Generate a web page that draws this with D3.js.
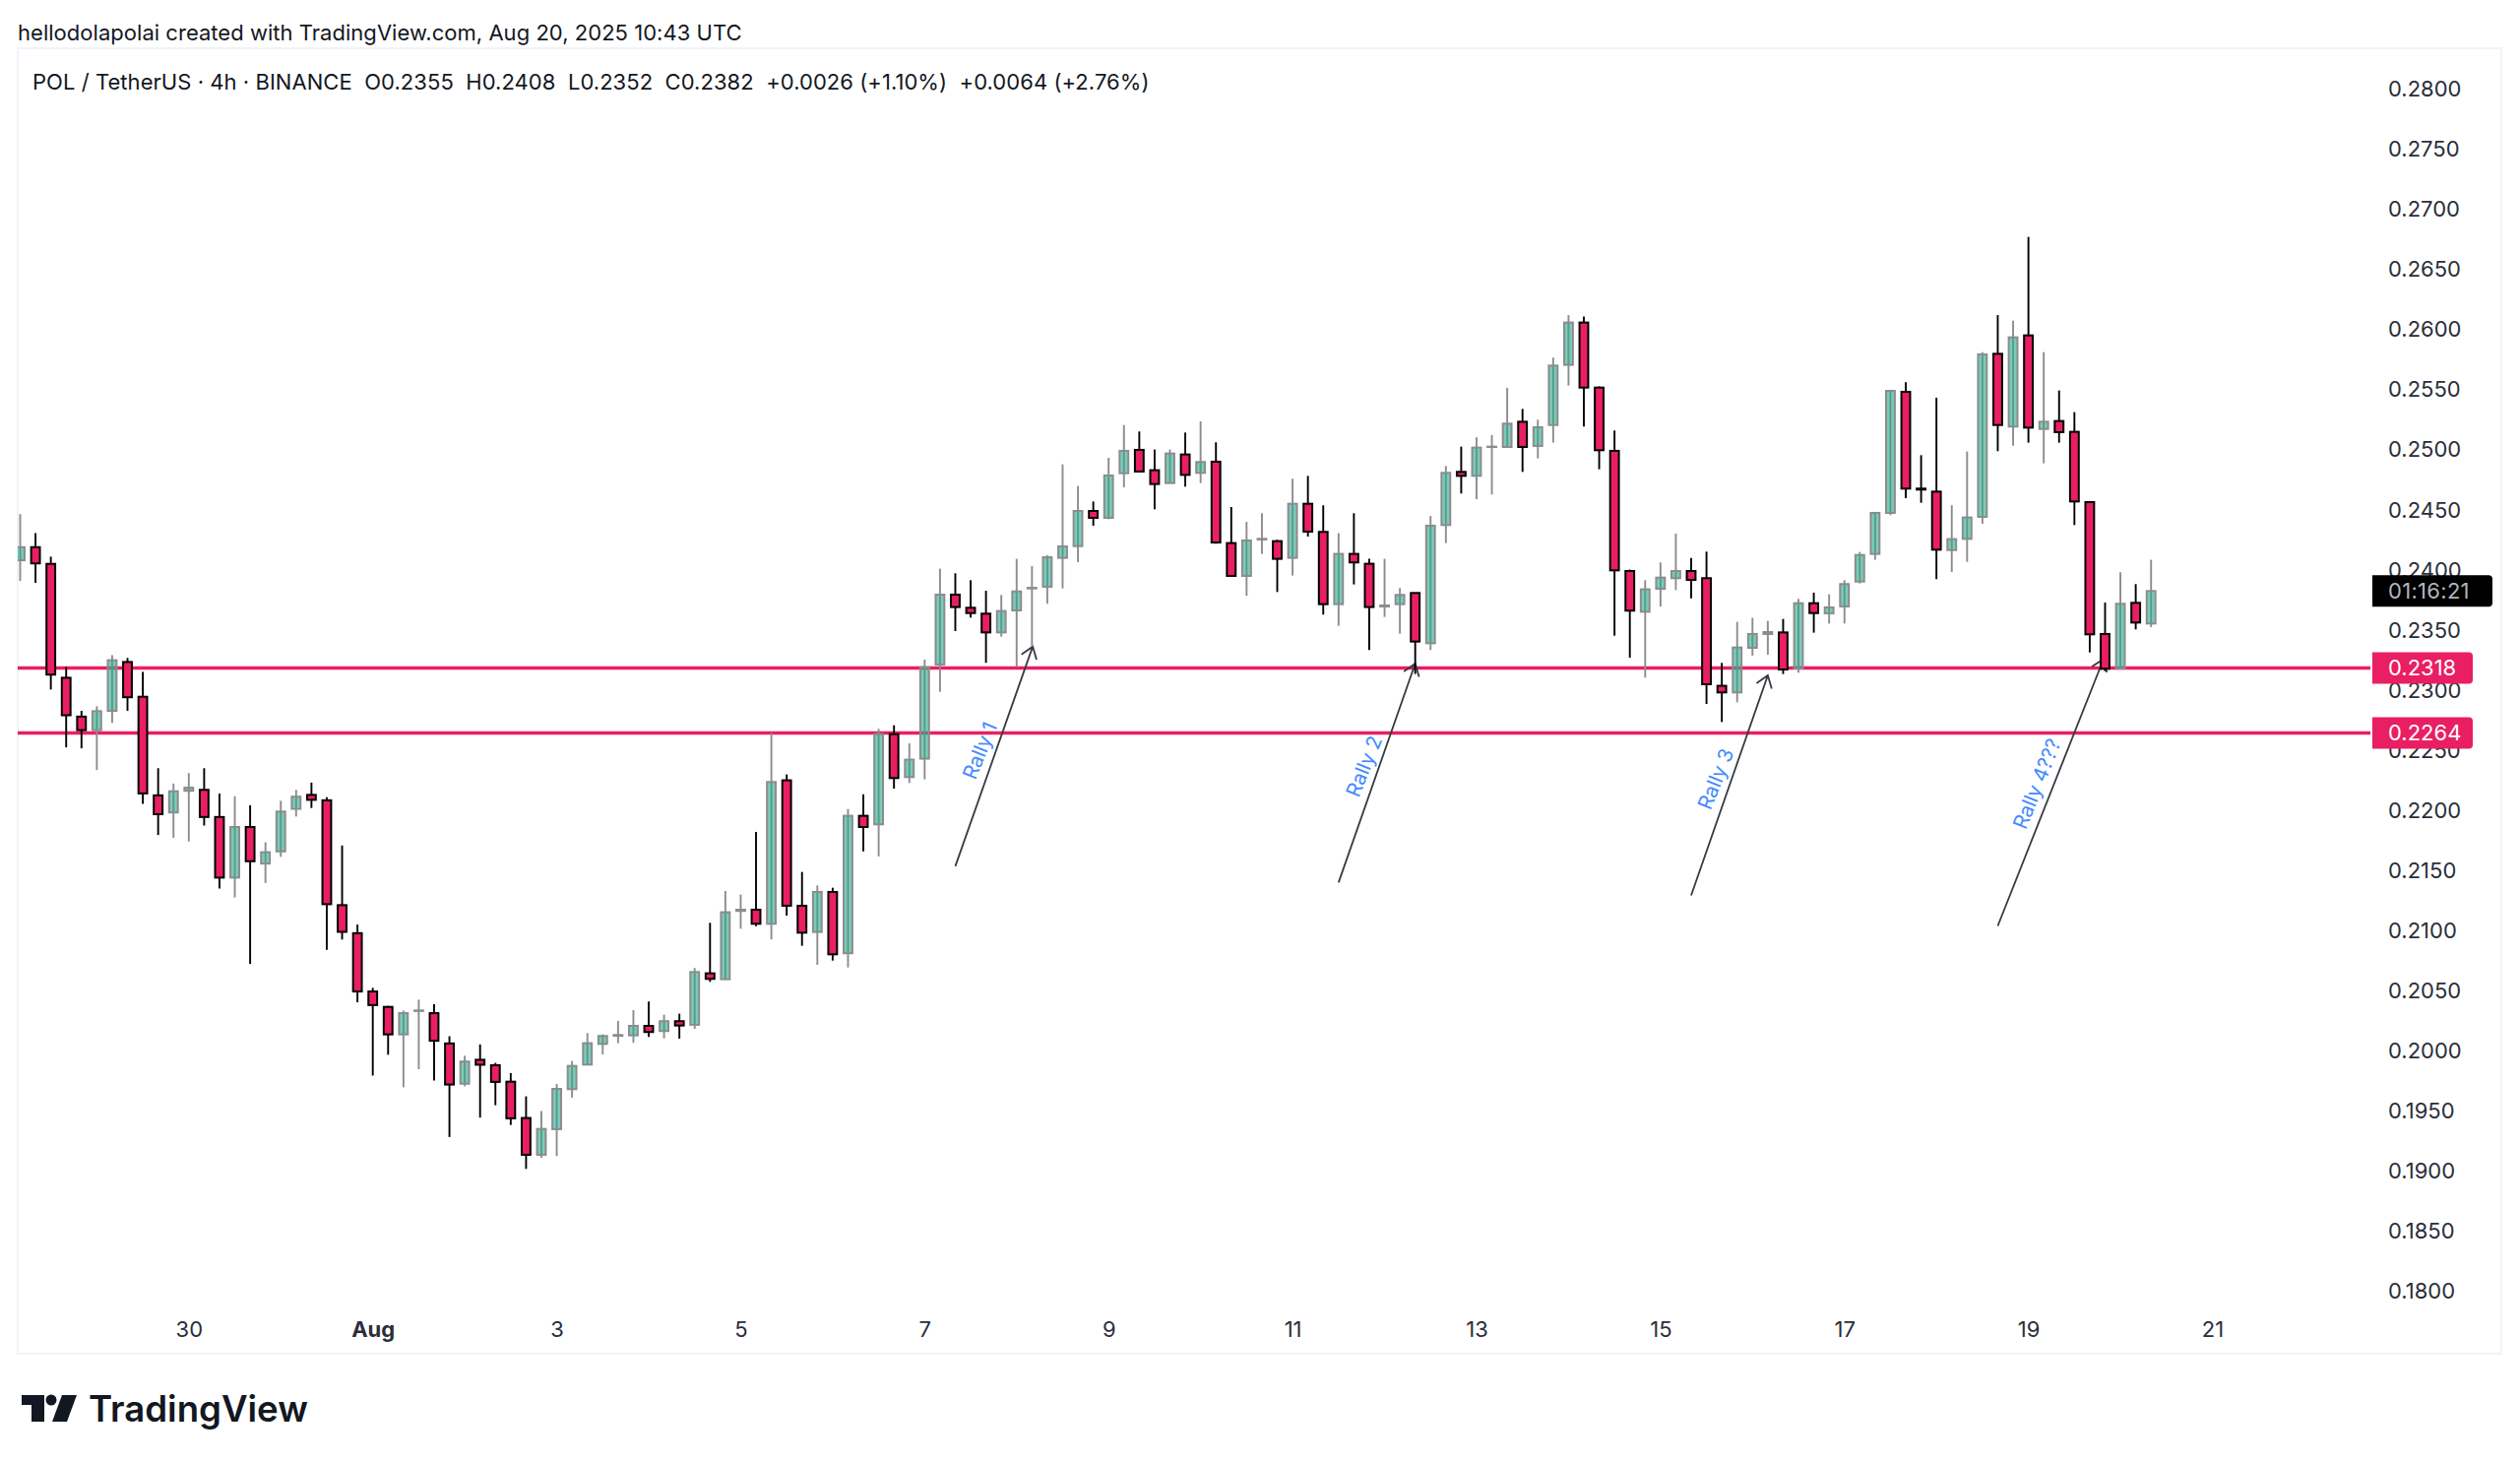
<!DOCTYPE html>
<html>
<head>
<meta charset="utf-8">
<title>POL / TetherUS</title>
<script src="https://cdn.jsdelivr.net/npm/d3@7"></script>
<style>
    html, body { margin: 0; padding: 0; background: #ffffff; }
    svg { display: block; }
    text { font-family: Inter, "Noto Sans", sans-serif; white-space: pre; }
</style>
</head>
<body>
<div id="chart"></div>
<script>

//4h candles, oldest first
var opens = [
    .24076,.24185,.24046,.23099,.22776,.22663,.22824,.23230,.22941,.22121,
    .21979,.22159,.22167,.21941,.21437,.21858,.21554,.21655,.22009,.22125,
    .22080,.21208,.20975,.20490,.20362,.20133,.20328,.20310,.20058,.19723,
    .19922,.19877,.19740,.19438,.19132,.19345,.19678,.19882,.20054,.20122,
    .20125,.20204,.20161,.20243,.20213,.20641,.20592,.21160,.21170,.21053,
    .22246,.21203,.20985,.21318,.20808,.21951,.21880,.22630,.22273,.22426,
    .23209,.23790,.23681,.23632,.23476,.23659,.23842,.23856,.24096,.24194,
    .24486,.24429,.24800,.24994,.24825,.24718,.24956,.24803,.24896,.24219,
    .23946,.24249,.24235,.24096,.24546,.24312,.23711,.24129,.24047,.23692,
    .23711,.23804,.23386,.24369,.24811,.24778,.25018,.25018,.25228,.25027,
    .25201,.25701,.26053,.25512,.24986,.23987,.23648,.23839,.23927,.23987,
    .23927,.23032,.22977,.23348,.23463,.23476,.23176,.23719,.23635,.23692,
    .23899,.24129,.24470,.25477,.24672,.24647,.24161,.24254,.24437,.25793,
    .25188,.25946,.25168,.25234,.25144,.24560,.23463,.23174,.23722,.23550
];
var highs = [
    .24460,.24302,.24106,.23189,.22824,.22862,.23287,.23264,.23148,.22347,
    .22219,.22306,.22347,.22137,.22114,.22039,.21731,.22076,.22167,.22227,
    .22106,.21704,.21046,.20520,.20370,.20332,.20422,.20385,.20118,.19956,
    .20050,.19896,.19811,.19618,.19495,.19721,.19912,.20144,.20133,.20245,
    .20335,.20406,.20297,.20305,.20685,.21061,.21326,.21296,.21817,.22641,
    .22295,.21484,.21372,.21353,.22008,.22131,.22674,.22704,.22554,.23250,
    .24006,.23968,.23910,.23823,.23788,.24088,.24028,.24118,.24874,.24694,
    .24565,.24928,.25201,.25147,.24997,.24997,.25138,.25231,.25057,.24519,
    .24396,.24467,.24246,.24754,.24778,.24533,.24301,.24467,.24088,.24088,
    .23845,.23804,.24445,.24860,.25021,.25097,.25117,.25510,.25335,.25245,
    .25761,.26115,.26102,.25523,.25155,.23998,.23910,.24058,.24298,.24096,
    .24148,.23223,.23564,.23597,.23572,.23588,.23755,.23807,.23793,.23910,
    .24145,.24470,.25485,.25556,.24950,.25428,.24533,.24980,.25807,.26115,
    .26069,.26765,.25807,.25488,.25308,.24560,.23725,.23976,.23878,.24080
];
var lows = [
    .23903,.23888,.23001,.22520,.22512,.22332,.22723,.22824,.22050,.21791,
    .21768,.21738,.21870,.21347,.21272,.20719,.21392,.21610,.21945,.22016,
    .20836,.20922,.20400,.19791,.19964,.19693,.19844,.19750,.19280,.19701,
    .19441,.19544,.19380,.19015,.19107,.19121,.19607,.19882,.19967,.20060,
    .20063,.20112,.20100,.20098,.20180,.20570,.20587,.21012,.21034,.20922,
    .21121,.20870,.20712,.20747,.20690,.21656,.21613,.22177,.22224,.22254,
    .22982,.23487,.23599,.23223,.23441,.23190,.23359,.23714,.23842,.24060,
    .24363,.24418,.24683,.24814,.24500,.24718,.24688,.24718,.24213,.23946,
    .23782,.24129,.23812,.23949,.24273,.23624,.23531,.23875,.23329,.23605,
    .23466,.23130,.23329,.24219,.24631,.24584,.24623,.25018,.24811,.24923,
    .25054,.25529,.25188,.24833,.23449,.23266,.23100,.23692,.23828,.23760,
    .22881,.22731,.22895,.23283,.23291,.23130,.23141,.23474,.23550,.23550,
    .23883,.24080,.24451,.24593,.24554,.23919,.23979,.24063,.24380,.24983,
    .25029,.25054,.24882,.25054,.24369,.23310,.23154,.23174,.23501,.23520
];
var closes = [
    .24185,.24050,.23125,.22787,.22663,.22821,.23245,.22937,.22137,.21964,
    .22155,.22185,.21941,.21437,.21858,.21573,.21648,.21986,.22110,.22084,
    .21216,.20986,.20490,.20377,.20133,.20310,.20332,.20080,.19716,.19907,
    .19881,.19738,.19435,.19132,.19347,.19680,.19871,.20060,.20120,.20128,
    .20204,.20153,.20243,.20207,.20652,.20595,.21149,.21170,.21053,.22232,
    .21203,.20979,.21318,.20799,.21951,.21858,.22630,.22265,.22418,.23187,
    .23790,.23687,.23637,.23476,.23654,.23817,.23847,.24101,.24191,.24486,
    .24429,.24781,.24986,.24814,.24710,.24964,.24786,.24893,.24224,.23946,
    .24241,.24254,.24088,.24546,.24314,.23711,.24129,.24058,.23687,.23700,
    .23788,.23400,.24363,.24803,.24778,.25013,.25021,.25212,.25018,.25182,
    .25695,.26053,.25512,.24991,.23992,.23657,.23834,.23932,.23987,.23913,
    .23045,.22977,.23351,.23463,.23479,.23168,.23719,.23637,.23684,.23878,
    .24120,.24470,.25485,.24672,.24664,.24164,.24252,.24432,.25788,.25201,
    .25930,.25179,.25228,.25141,.24565,.23460,.23174,.23714,.23558,.23820
];

//Axis ticks
var priceTicks = [.18,.185,.19,.195,.2,.205,.21,.215,.22,.225,.23,.235,.24,.245,.25,.255,.26,.265,.27,.275,.28];
var dayTickIndex = [11,23,35,47,59,71,83,95,107,119,131,143];
var dayLabels = ['30','Aug','3','5','7','9','11','13','15','17','19','21'];

//Horizontal levels and the drawn arrows, in candle index and price
var levels = [0.2318, 0.2264];
var rallyNames = ['Rally 1','Rally 2','Rally 3','Rally 4???'];
var rallyStartIndex = [61, 86, 109, 129];
var rallyStartPrice = [.21531, .21396, .21289, .21035];
var rallyEndIndex = [66.05, 91, 114, 135.9];
var rallyEndPrice = [.23359, .23217, .23119, .23254];
var rallyTextIndex = [62.7, 87.75, 110.7, 131.65];
var rallyTextPrice = [.22488, .22358, .22253, .22212];

var titleText = 'hellodolapolai created with TradingView.com, Aug 20, 2025 10:43 UTC';
var legendText = 'POL / TetherUS \u00b7 4h \u00b7 BINANCE  O0.2355  H0.2408  L0.2352  C0.2382  +0.0026 (+1.10%)  +0.0064 (+2.76%)';
var lastPrice = 0.2382;
var countdownText = '01:16:21';

function setChart(){

    var width = 2560,
        height = 1486;

    var pane = {left: 18, right: 2541, top: 49, bottom: 1375};

    var red = '#e91e63',
        greenFill = '#2fa98f',
        greenLine = '#8c8c8c',
        inkDark = '#131722';

    var svg = d3.select('#chart')
        .append('svg')
        .attr('width', width)
        .attr('height', height);

    //Scales, index is the candle number
    var x = d3.scaleLinear()
        .domain([0, 143])
        .range([20.5, 2247.5]);

    var y = d3.scaleLinear()
        .domain([0.18, 0.28])
        .range([1311.2, 89.8]);

    var bodyWidth = (x(1) - x(0)) * 0.57;

    svg.append('clipPath')
        .attr('id', 'paneClip')
        .append('rect')
        .attr('x', pane.left)
        .attr('y', pane.top)
        .attr('width', 2390)
        .attr('height', pane.bottom - pane.top);

    //Chart frame
    svg.append('rect')
        .attr('x', pane.left)
        .attr('y', pane.top)
        .attr('width', pane.right - pane.left)
        .attr('height', pane.bottom - pane.top)
        .attr('fill', 'none')
        .attr('stroke', '#f0f3fa')
        .attr('stroke-width', 2);

    //Price axis
    var yAxis = d3.axisRight(y)
        .tickValues(priceTicks)
        .tickFormat(d3.format('.4f'))
        .tickSize(0)
        .tickPadding(0);

    var yAxisG = svg.append('g')
        .attr('transform', 'translate(2426,0.7)')
        .call(yAxis);
    yAxisG.select('.domain').remove();
    yAxisG.selectAll('text')
        .attr('font-size', 22)
        .attr('font-family', 'Inter')
        .attr('fill', '#2a2e39');

    //Time axis
    var xAxis = d3.axisBottom(x)
        .tickValues(dayTickIndex)
        .tickFormat(function(d, i){ return dayLabels[i]; })
        .tickSize(0)
        .tickPadding(4);

    var xAxisG = svg.append('g')
        .attr('transform', 'translate(0,1338)')
        .call(xAxis);
    xAxisG.select('.domain').remove();
    xAxisG.selectAll('text')
        .attr('font-size', 22)
        .attr('font-family', 'Inter')
        .attr('font-weight', function(d, i){ return dayLabels[i] === 'Aug' ? 700 : 400; })
        .attr('fill', '#2a2e39');

    var plot = svg.append('g')
        .attr('clip-path', 'url(#paneClip)');

    //Support levels
    plot.selectAll('.level')
        .data(levels)
        .enter()
        .append('line')
        .attr('class', 'level')
        .attr('x1', pane.left)
        .attr('x2', 2408)
        .attr('y1', function(d){ return y(d); })
        .attr('y2', function(d){ return y(d); })
        .attr('stroke', red)
        .attr('stroke-width', 3.6);

    //Rally arrows with open heads
    var headLength = 14,
        headAngle = 0.62;

    plot.selectAll('.rally')
        .data(rallyNames)
        .enter()
        .append('path')
        .attr('class', 'rally')
        .attr('fill', 'none')
        .attr('stroke', '#363a45')
        .attr('stroke-width', 1.8)
        .attr('d', function(d, i){
            var x0 = x(rallyStartIndex[i]),
                y0 = y(rallyStartPrice[i]),
                x1 = x(rallyEndIndex[i]),
                y1 = y(rallyEndPrice[i]),
                angle = Math.atan2(y0 - y1, x0 - x1),
                p = d3.path();
            p.moveTo(x0, y0);
            p.lineTo(x1, y1);
            p.moveTo(x1 + headLength * Math.cos(angle + headAngle), y1 + headLength * Math.sin(angle + headAngle));
            p.lineTo(x1, y1);
            p.lineTo(x1 + headLength * Math.cos(angle - headAngle), y1 + headLength * Math.sin(angle - headAngle));
            return p.toString();
        });

    //Candles
    var candles = plot.selectAll('.candle')
        .data(opens)
        .enter()
        .append('g')
        .attr('class', 'candle');

    candles.append('line')
        .attr('x1', function(d, i){ return x(i); })
        .attr('x2', function(d, i){ return x(i); })
        .attr('y1', function(d, i){ return y(highs[i]); })
        .attr('y2', function(d, i){ return y(lows[i]); })
        .attr('stroke', function(d, i){ return closes[i] >= opens[i] ? greenLine : '#000000'; })
        .attr('stroke-width', 1.9);

    candles.append('rect')
        .attr('x', function(d, i){ return x(i) - bodyWidth / 2; })
        .attr('y', function(d, i){ return y(Math.max(opens[i], closes[i])); })
        .attr('width', bodyWidth)
        .attr('height', function(d, i){ return Math.abs(y(opens[i]) - y(closes[i])); })
        .attr('fill', function(d, i){ return closes[i] >= opens[i] ? '#ffffff' : red; });

    //Green bodies let the levels show through
    candles.filter(function(d, i){ return closes[i] >= opens[i]; })
        .select('rect')
        .attr('fill', greenFill)
        .attr('fill-opacity', 0.62)
        .attr('stroke', greenLine)
        .attr('stroke-width', 2);

    candles.filter(function(d, i){ return closes[i] < opens[i]; })
        .select('rect')
        .attr('stroke', '#000000')
        .attr('stroke-width', 2);

    //Rally labels
    svg.selectAll('.rallyLabel')
        .data(rallyNames)
        .enter()
        .append('text')
        .attr('class', 'rallyLabel')
        .attr('text-anchor', 'middle')
        .attr('dominant-baseline', 'middle')
        .attr('font-size', 20.5)
        .attr('fill', '#448aff')
        .attr('transform', function(d, i){
            return 'translate(' + x(rallyTextIndex[i]) + ',' + y(rallyTextPrice[i]) + ') rotate(-68)';
        })
        .text(function(d){ return d; });

    //Price tags, square on the left and rounded on the right
    function tagPath(left, right, middle){
        var top = middle - 16, bottom = middle + 16, r = 4, p = d3.path();
        p.moveTo(left, top);
        p.lineTo(right - r, top);
        p.quadraticCurveTo(right, top, right, top + r);
        p.lineTo(right, bottom - r);
        p.quadraticCurveTo(right, bottom, right - r, bottom);
        p.lineTo(left, bottom);
        p.closePath();
        return p.toString();
    }

    svg.selectAll('.levelTag')
        .data(levels)
        .enter()
        .append('path')
        .attr('class', 'levelTag')
        .attr('fill', red)
        .attr('d', function(d){ return tagPath(2410, 2512, y(d)); });

    svg.selectAll('.levelTagText')
        .data(levels)
        .enter()
        .append('text')
        .attr('class', 'levelTagText')
        .attr('x', 2426)
        .attr('y', function(d){ return y(d); })
        .attr('dy', '.36em')
        .attr('font-size', 22)
        .attr('fill', '#ffffff')
        .text(d3.format('.4f'));

    svg.append('path')
        .attr('fill', '#000000')
        .attr('d', tagPath(2410, 2532, y(lastPrice)));

    svg.append('text')
        .attr('x', 2426)
        .attr('y', y(lastPrice))
        .attr('dy', '.36em')
        .attr('font-size', 22)
        .attr('letter-spacing', 0.3)
        .attr('fill', '#b2b5be')
        .text(countdownText);

    //Header lines
    svg.append('text')
        .attr('x', 18)
        .attr('y', 41)
        .attr('font-size', 22)
        .attr('letter-spacing', 0.03)
        .attr('fill', inkDark)
        .text(titleText);

    svg.append('text')
        .attr('x', 33)
        .attr('y', 91)
        .attr('font-size', 22)
        .attr('letter-spacing', 0.05)
        .attr('fill', inkDark)
        .text(legendText);

    //Logo
    var logo = svg.append('g')
        .attr('transform', 'translate(22,1417)')
        .attr('fill', '#131722');
    logo.append('path').attr('d', 'M0 0H23V27H10V10H0Z');
    logo.append('circle').attr('cx', 30).attr('cy', 5).attr('r', 5.5);
    logo.append('path').attr('d', 'M41 0H56L46 27H31Z');

    svg.append('text')
        .attr('x', 90)
        .attr('y', 1444)
        .attr('font-size', 36.6)
        .attr('font-weight', 600)
        .attr('fill', '#131722')
        .text('TradingView');
};

//begin script when window loads
window.onload = setChart();

</script>
</body>
</html>
